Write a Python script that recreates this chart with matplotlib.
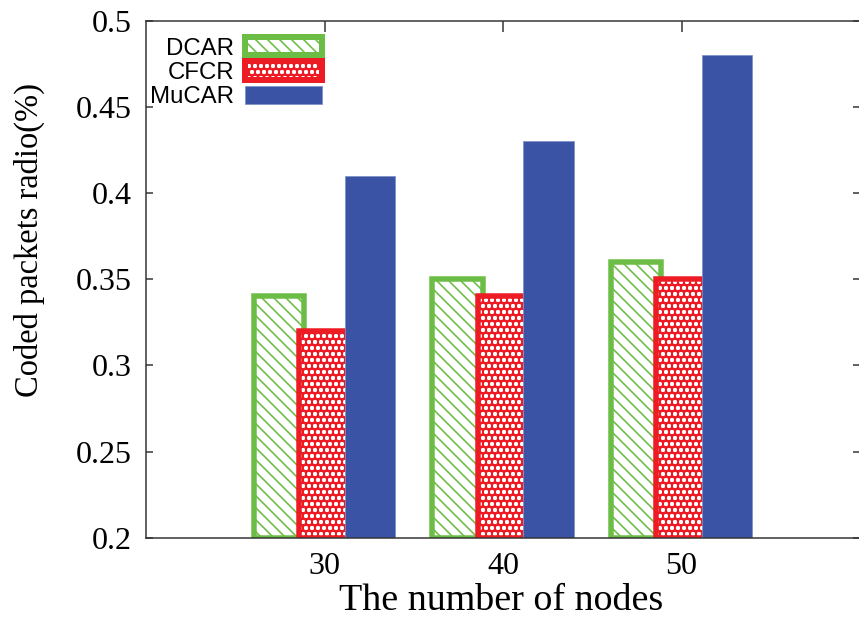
import matplotlib
matplotlib.use("Agg")
import matplotlib.pyplot as plt
from matplotlib.patches import Patch
from matplotlib.ticker import FormatStrFormatter
from matplotlib.legend_handler import HandlerTuple

# data
nodes = [30, 40, 50]
dcar = [0.34, 0.35, 0.36]
cfcr = [0.32, 0.34, 0.35]
mucar = [0.41, 0.43, 0.48]

green = "#6cbd45"
red = "#ed1c24"
blue = "#3a53a4"

plt.rcParams["hatch.linewidth"] = 1.6
plt.rcParams["font.family"] = "Liberation Serif"

DPI = 72
fig = plt.figure(figsize=(859 / DPI, 618 / DPI), dpi=DPI)
ax = fig.add_axes([146 / 859, 80.3 / 618, 714 / 859, 517.2 / 618])

step = 2.55
w = 2.85
x_d = [n - step for n in nodes]
x_m = [n + step for n in nodes]

ax.bar(x_d, [v - 0.2 for v in dcar], w, bottom=0.2, facecolor="white",
       edgecolor=green, hatch="\\\\", linewidth=5.5, zorder=1)
ax.bar(nodes, [v - 0.2 for v in cfcr], w, bottom=0.2, facecolor=red,
       edgecolor="white", hatch="oo", linewidth=0, zorder=1.1)
ax.bar(nodes, [v - 0.2 for v in cfcr], w, bottom=0.2, fill=False,
       edgecolor=red, linewidth=5.5, zorder=1.2)
ax.bar(x_m, [v - 0.2 for v in mucar], w, bottom=0.2, facecolor=blue,
       edgecolor="#7f92c8", linewidth=0.8, zorder=1.3)

ax.set_xlim(20, 60)
ax.set_ylim(0.2, 0.5)
ax.set_xticks(nodes)
ax.set_yticks([0.2, 0.25, 0.3, 0.35, 0.4, 0.45, 0.5])
ax.yaxis.set_major_formatter(FormatStrFormatter("%g"))

for s in ax.spines.values():
    s.set_color("#333333")
    s.set_linewidth(1.5)

ax.tick_params(axis="x", direction="in", bottom=False, top=True, length=11,
               width=1.5, color="#333333", labelsize=32, pad=14)
ax.tick_params(axis="y", direction="in", left=True, right=True, length=7,
               width=1.5, color="#333333", labelsize=32, pad=14)

ax.set_xlabel("The number of nodes", fontsize=38)
ax.set_ylabel("Coded packets radio(%)", fontsize=32.5)
ax.xaxis.set_label_coords(0.497, -0.088)
ax.yaxis.set_label_coords(-0.142, 0.576)

h_d = Patch(facecolor="white", edgecolor=green, hatch="\\\\", linewidth=6)
h_c = (Patch(facecolor=red, edgecolor="white", hatch="oo", linewidth=0),
       Patch(fill=False, edgecolor=red, linewidth=6))
h_m = Patch(facecolor=blue, edgecolor="#7f92c8", linewidth=0.8)
ax.legend([h_d, h_c, h_m], ["DCAR", "CFCR", "MuCAR"],
          handler_map={tuple: HandlerTuple(ndivide=1, pad=0)},
          loc="upper left", bbox_to_anchor=(0.006, 0.968), frameon=False,
          markerfirst=False, prop={"family": "Liberation Sans", "size": 24},
          handlelength=3.2, handleheight=0.8, handletextpad=0.45,
          labelspacing=0.08, borderpad=0, borderaxespad=0)

fig.savefig("out.png", dpi=DPI)
